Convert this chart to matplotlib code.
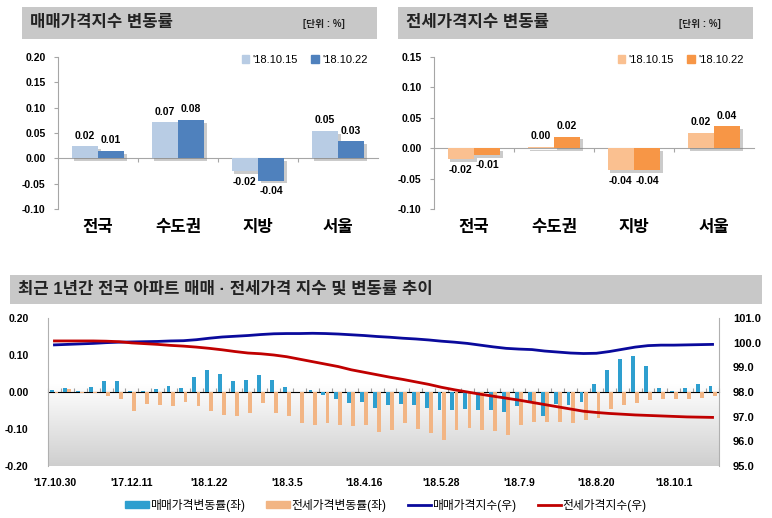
import numpy as np
import matplotlib
matplotlib.use("Agg")
import matplotlib.pyplot as plt
import matplotlib.patheffects as pe
from matplotlib.patches import Rectangle, Patch
from matplotlib.lines import Line2D
from matplotlib.ticker import NullFormatter

plt.rcParams['font.family'] = ['Liberation Sans', 'Noto Sans CJK KR', 'DejaVu Sans']

# ---- data: weekly change (%) by region ----
regions = ['전국', '수도권', '지방', '서울']
dates = ["'18.10.15", "'18.10.22"]
sale_1015 = [0.024, 0.071, -0.025, 0.054]
sale_1022 = [0.015, 0.076, -0.044, 0.034]
sale_1015_lbl = ['0.02', '0.07', '-0.02', '0.05']
sale_1022_lbl = ['0.01', '0.08', '-0.04', '0.03']
jeonse_1015 = [-0.018, 0.002, -0.036, 0.025]
jeonse_1022 = [-0.011, 0.019, -0.036, 0.036]
jeonse_1015_lbl = ['-0.02', '0.00', '-0.04', '0.02']
jeonse_1022_lbl = ['-0.01', '0.02', '-0.04', '0.04']

# ---- data: last 52 weeks, nationwide ('17.10.30 ~ '18.10.22) ----
week_labels = ["'17.10.30", "'17.12.11", "'18.1.22", "'18.3.5", "'18.4.16",
               "'18.5.28", "'18.7.9", "'18.8.20", "'18.10.1"]
sale_chg = [0.005, 0.011, 0.003, 0.014, 0.031, 0.030, 0.004, 0.004, 0.007, 0.016,
            0.012, 0.041, 0.060, 0.049, 0.031, 0.033, 0.045, 0.033, 0.014, 0.000,
            0.005, -0.008, -0.020, -0.031, -0.027, -0.042, -0.036, -0.033, -0.034, -0.044,
            -0.049, -0.048, -0.047, -0.048, -0.048, -0.053, -0.038, -0.025, -0.064, -0.033,
            -0.036, -0.027, 0.021, 0.060, 0.089, 0.098, 0.069, 0.012, 0.003, 0.010,
            0.022, 0.015]
jeonse_chg = [-0.002, 0.007, -0.002, -0.003, -0.010, -0.018, -0.050, -0.033, -0.035, -0.039,
              -0.028, -0.039, -0.051, -0.061, -0.065, -0.058, -0.030, -0.056, -0.066, -0.083,
              -0.090, -0.085, -0.090, -0.093, -0.088, -0.107, -0.103, -0.085, -0.100, -0.112,
              -0.130, -0.104, -0.098, -0.104, -0.105, -0.115, -0.090, -0.082, -0.080, -0.082,
              -0.085, -0.075, -0.069, -0.047, -0.034, -0.029, -0.022, -0.020, -0.018, -0.020,
              -0.015, -0.010]
sale_idx = [99.91, 99.93, 99.95, 99.97, 100.00, 100.02, 100.03, 100.04, 100.05, 100.07,
            100.08, 100.12, 100.18, 100.23, 100.26, 100.29, 100.33, 100.36, 100.37, 100.37,
            100.38, 100.37, 100.35, 100.32, 100.29, 100.25, 100.22, 100.18, 100.15, 100.11,
            100.06, 100.02, 99.97, 99.90, 99.83, 99.77, 99.74, 99.72, 99.66, 99.62,
            99.58, 99.56, 99.57, 99.64, 99.73, 99.82, 99.88, 99.90, 99.90, 99.91,
            99.92, 99.93]
jeonse_idx = [100.07, 100.07, 100.07, 100.07, 100.06, 100.04, 99.99, 99.96, 99.93, 99.89,
              99.86, 99.82, 99.77, 99.71, 99.64, 99.58, 99.55, 99.50, 99.43, 99.33,
              99.23, 99.13, 99.03, 98.90, 98.80, 98.70, 98.60, 98.51, 98.41, 98.31,
              98.19, 98.09, 98.00, 97.91, 97.83, 97.75, 97.67, 97.58, 97.49, 97.40,
              97.31, 97.22, 97.17, 97.13, 97.10, 97.07, 97.05, 97.03, 97.01, 96.99,
              96.98, 96.97]

W, H = 772, 518
fig = plt.figure(figsize=(W / 100, H / 100), dpi=100)
fig.patch.set_facecolor('white')


def box(x, y, w, h):
    # pixel box (from top-left) -> figure fraction
    return [x / W, 1 - (y + h) / H, w / W, h / H]


def header(x, y, w, h, title, size, unit=None, unit_x=None):
    fig.add_artist(Rectangle((x / W, 1 - (y + h) / H), w / W, h / H,
                             transform=fig.transFigure, color='#c8c8c8', lw=0))
    fig.text((x + 8) / W, 1 - (y + h / 2) / H, title, fontsize=size, fontweight='bold',
             color='#222222', va='center', ha='left')
    if unit:
        fig.text(unit_x / W, 1 - (y + h / 2 + 1) / H, unit, fontsize=7, fontweight='bold',
                 color='#222222', va='center', ha='left')


GRID = '#a6a6a6'
shadow = [pe.SimplePatchShadow(offset=(2, -2), shadow_rgbFace='#7f7f7f', alpha=0.4), pe.Normal()]


def change_panel(rect, v1, v2, l1, l2, c1, c2, ylim, yticks):
    ax = fig.add_axes(box(*rect))
    x = np.arange(len(regions))
    w = 0.33
    b1 = ax.bar(x - w / 2, v1, w, color=c1, path_effects=shadow, zorder=2)
    b2 = ax.bar(x + w / 2, v2, w, color=c2, path_effects=shadow, zorder=2)
    ax.bar_label(b1, labels=l1, padding=4, fontsize=7.5, fontweight='bold')
    ax.bar_label(b2, labels=l2, padding=4, fontsize=7.5, fontweight='bold')
    ax.set_xlim(-0.5, len(regions) - 0.5)
    ax.set_ylim(*ylim)
    ax.set_yticks(yticks)
    ax.set_yticklabels(['%.2f' % t for t in yticks], fontsize=7.5, fontweight='bold')
    ax.tick_params(axis='y', length=3, color=GRID, pad=6)
    ax.set_xticks(x)
    ax.set_xticklabels(regions, fontsize=12, fontweight='bold')
    ax.tick_params(axis='x', length=0, pad=8)
    for s in ['top', 'right', 'bottom']:
        ax.spines[s].set_visible(False)
    ax.spines['left'].set_color(GRID)
    zero = (0 - ylim[0]) / (ylim[1] - ylim[0])
    sec = ax.secondary_xaxis(zero)
    sec.set_xticks(np.arange(0.5, len(regions) - 1))
    sec.xaxis.set_major_formatter(NullFormatter())
    sec.tick_params(length=3, color=GRID)
    sec.spines['bottom'].set_color(GRID)
    handles = [Patch(color=c1, label=dates[0]), Patch(color=c2, label=dates[1])]
    ax.legend(handles=handles, loc='upper right', bbox_to_anchor=(1.0, 1.08), ncol=2,
              frameon=False, fontsize=8, handlelength=0.7, handleheight=0.7,
              handletextpad=0.3, columnspacing=1.2)
    return ax


# ---- top-left: sale price ----
header(22, 7, 355, 32, '매매가격지수 변동률', 12, '[단위 : %]', 303)
change_panel((58, 57, 320, 152), sale_1015, sale_1022, sale_1015_lbl, sale_1022_lbl,
             '#b8cce4', '#4f81bd', (-0.10, 0.20), np.arange(-0.10, 0.201, 0.05))

# ---- top-right: jeonse price ----
header(398, 7, 355, 32, '전세가격지수 변동률', 12, '[단위 : %]', 679)
change_panel((434, 57, 320, 152), jeonse_1015, jeonse_1022, jeonse_1015_lbl, jeonse_1022_lbl,
             '#fac090', '#f79646', (-0.10, 0.15), np.arange(-0.10, 0.151, 0.05))

# ---- bottom: yearly trend ----
header(10, 275, 752, 29, '최근 1년간 전국 아파트 매매 · 전세가격 지수 및 변동률 추이', 12)

ax = fig.add_axes(box(48, 318, 671, 148))
n = len(sale_chg)
x = np.arange(n)

# soft gray gradient at the bottom of the plot area
g = np.linspace(0, 1, 200)
shade = np.clip((g - 0.45) / 0.55, 0, 1)
level = 1 - 0.19 * shade
grad = np.repeat(level[:, None], 2, axis=1)
grad = np.dstack([grad, grad, grad])
ax.imshow(grad, extent=[0, 1, 0, 1], transform=ax.transAxes, aspect='auto', zorder=0)

bw = 0.3
ax.bar(x - 0.16, sale_chg, bw, color='#2e9fcf', zorder=2)
ax.bar(x + 0.16, jeonse_chg, bw, color='#f2b584', zorder=2)
ax.set_xlim(-0.5, n - 0.5)
ax.set_ylim(-0.20, 0.20)
lt = [-0.20, -0.10, 0.00, 0.10, 0.20]
ax.set_yticks(lt)
ax.set_yticklabels(['%.2f' % t for t in lt], fontsize=7.5, fontweight='bold')
ax.tick_params(axis='y', length=0, pad=14)
ax.set_xticks(x[::6])
ax.set_xticklabels(week_labels, fontsize=7.5, fontweight='bold')
ax.tick_params(axis='x', length=0, pad=9)
for s in ['top', 'bottom', 'right']:
    ax.spines[s].set_visible(False)
ax.spines['left'].set_color('#b0b0b0')

sec = ax.secondary_xaxis(0.5)
sec.set_xticks(np.arange(-0.5, n))
sec.xaxis.set_major_formatter(NullFormatter())
sec.tick_params(length=3, color='#a0a0a0')
sec.spines['bottom'].set_color('#a0a0a0')

ax2 = ax.twinx()
ax2.plot(x, sale_idx, color='#0a0a9c', lw=2)
ax2.plot(x, jeonse_idx, color='#c00000', lw=2)
ax2.set_ylim(95.0, 101.0)
rt = np.arange(95.0, 101.01, 1.0)
ax2.set_yticks(rt)
ax2.set_yticklabels(['%.1f' % t for t in rt], fontsize=8, fontweight='bold')
ax2.tick_params(axis='y', length=0, pad=10)
for s in ['top', 'bottom', 'left']:
    ax2.spines[s].set_visible(False)
ax2.spines['right'].set_color('#b0b0b0')

handles = [Patch(color='#2e9fcf', label='매매가격변동률(좌)'),
           Patch(color='#f2b584', label='전세가격변동률(좌)'),
           Line2D([], [], color='#0a0a9c', lw=2, label='매매가격지수(우)'),
           Line2D([], [], color='#c00000', lw=2, label='전세가격지수(우)')]
fig.legend(handles=handles, loc='center', bbox_to_anchor=(0.5, 1 - 505 / H), ncol=4,
           frameon=False, fontsize=8.5, handlelength=2.0, handleheight=0.5,
           handletextpad=0.1, columnspacing=1.8)

fig.savefig('out.png', dpi=100, facecolor='white')
